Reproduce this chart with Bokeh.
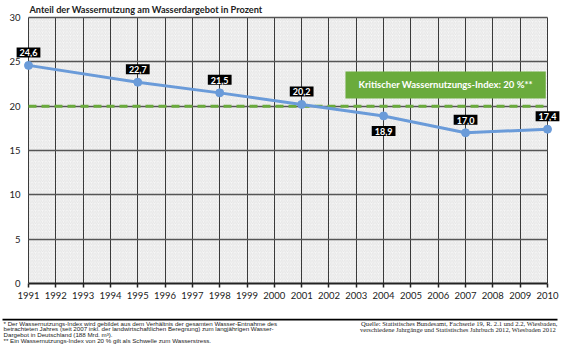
from bokeh.plotting import figure
from bokeh.models import Label, BoxAnnotation, FixedTicker
from bokeh.layouts import column
from bokeh.embed import file_html
from bokeh.resources import INLINE
from bokeh.core.properties import value

# ---- data ----
years = [1991, 1995, 1998, 2001, 2004, 2007, 2010]
values = [24.6, 22.7, 21.5, 20.2, 18.9, 17.0, 17.4]
value_labels = ["24,6", "22,7", "21,5", "20,2", "18,9", "17,0", "17,4"]
x_ticks = list(range(1991, 2011))
y_ticks = [0, 5, 10, 15, 20, 25, 30]
threshold = 20
title_text = "Anteil der Wassernutzung am Wasserdargebot in Prozent"
threshold_text = "Kritischer Wassernutzungs-Index: 20 %**"
foot_left = [
    "* Der Wassernutzungs-Index wird gebildet aus dem Verhältnis der gesamten Wasser-Entnahme des",
    "betrachteten Jahres (seit 2007 inkl. der landwirtschaftlichen Beregnung) zum langjährigen Wasser-",
    "Dargebot in Deutschland (188 Mrd. m³).",
    "** Ein Wassernutzungs-Index von 20 % gilt als Schwelle zum Wasserstress.",
]
foot_right = [
    "Quelle: Statistisches Bundesamt, Fachserie 19, R. 2.1 und 2.2, Wiesbaden,",
    "verschiedene Jahrgänge  und Statistisches Jahrbuch 2012, Wiesbaden 2012",
]

FONT = "Lato"
BLUE = "#6a9bd9"
GREEN = "#6aab3c"

# pixel layout of the plotting area
W, H_TOP = 561, 318
FL, FB = 12, 35           # frame left / bottom border
X0_PX, X1_PX = 28, 547    # where first / last year sit
Y30_PX, Y0_PX = 17, 283   # where top / bottom value sit
kx = (X1_PX - X0_PX) / (x_ticks[-1] - x_ticks[0])
ky = (Y0_PX - Y30_PX) / (y_ticks[-1] - y_ticks[0])
x_start = x_ticks[0] - (X0_PX - FL) / kx
x_end = x_ticks[-1] + (W - X1_PX) / kx
y_end = y_ticks[-1] + Y30_PX / ky

p = figure(width=W, height=H_TOP, x_range=(x_start, x_end), y_range=(0, y_end),
           output_backend="svg", toolbar_location=None,
           min_border_left=FL, min_border_right=0, min_border_top=0, min_border_bottom=FB)
p.background_fill_color = "white"
p.border_fill_color = "white"
p.outline_line_color = None
p.frame_align = False

# hatched plot area
p.add_layout(BoxAnnotation(left=x_ticks[0], right=x_ticks[-1], bottom=y_ticks[0], top=y_ticks[-1],
                           fill_color="#f6f6f6", fill_alpha=1, line_color=None,
                           hatch_pattern="/", hatch_color="#dcdcdc", hatch_scale=3.5,
                           hatch_weight=0.7, level="image"))

p.xaxis.ticker = FixedTicker(ticks=x_ticks)
p.yaxis.ticker = FixedTicker(ticks=y_ticks)
p.xaxis.bounds = (x_ticks[0], x_ticks[-1])
p.xgrid.cross_bounds = (y_ticks[0], y_ticks[-1])
p.ygrid.cross_bounds = (x_ticks[0], x_ticks[-1])
p.xgrid.grid_line_color = "#3a3a3a"
p.xgrid.grid_line_width = 1
p.ygrid.grid_line_color = "#555555"
p.ygrid.grid_line_width = 1.5

for ax in (p.xaxis[0], p.yaxis[0]):
    ax.major_label_text_font = FONT
    ax.major_label_text_font_size = "9.5px"
    ax.major_label_text_color = "#222222"
    ax.minor_tick_line_color = None

p.xaxis.axis_line_width = 2
p.xaxis.axis_line_color = "#222222"
p.xaxis.major_tick_line_color = "#222222"
p.xaxis.major_tick_line_width = 1.5
p.xaxis.major_tick_out = 4
p.xaxis.major_tick_in = 0
p.xaxis.major_label_standoff = 4

p.yaxis.axis_line_color = None
p.yaxis.major_tick_line_color = None
p.yaxis.major_tick_out = 0
p.yaxis.major_tick_in = 0
p.yaxis.major_label_standoff = -8

# threshold line
p.line([x_ticks[0], x_ticks[-1]], [threshold, threshold], line_color=GREEN,
       line_width=3, line_dash="8 5")

# series
p.line(years, values, line_color=BLUE, line_width=3)
p.scatter(years, values, size=8, fill_color=BLUE, line_color=BLUE)

# value labels
for yr, v, t in zip(years, values, value_labels):
    below = yr == 2004
    p.add_layout(Label(x=yr, y=v, text=t, text_align="center", text_baseline="middle",
                       y_offset=-15 if below else 13,
                       text_font=FONT, text_font_style="bold",
                       text_font_size="9px", text_color="white",
                       background_fill_color="black", background_fill_alpha=1,
                       padding=dict(left=3, right=3, top=2, bottom=1)))

# threshold box label
p.add_layout(Label(x=2006.27, y=22.39, text=threshold_text, text_align="center",
                   text_baseline="middle", text_font=FONT, text_font_style="bold",
                   text_font_size="9.5px", text_color="white",
                   background_fill_color=GREEN, background_fill_alpha=1,
                   padding=dict(left=13, right=13, top=8, bottom=8)))

# title
p.add_layout(Label(x=x_ticks[0], y=y_ticks[-1], x_offset=1, y_offset=8.5, text=title_text,
                   text_align="left", text_baseline="alphabetic", text_font=FONT,
                   text_font_style="bold", text_font_size="9.2px", text_color="#222222"))

# footnote panel
f = figure(width=W, height=353 - H_TOP, x_range=(0, W), y_range=(353 - H_TOP, 0),
           output_backend="svg", toolbar_location=None,
           x_axis_type=None, y_axis_type=None,
           min_border=0, min_border_left=0, min_border_right=0,
           min_border_top=0, min_border_bottom=0)
f.frame_align = False
f.grid.visible = False
f.outline_line_color = None
f.background_fill_color = "white"
f.segment(x0=[2], y0=[1], x1=[557], y1=[1], line_color="black", line_width=2)
f.text(x=[3] * len(foot_left), y=[4.5, 10.2, 15.9, 21.6], text=foot_left,
       text_font=value("Liberation Sans"), text_font_size="6.2px",
       text_baseline="middle", text_align="left", text_color="#222222")
f.text(x=[557] * len(foot_right), y=[4.5, 10.5], text=foot_right,
       text_font=value("Liberation Serif"), text_font_size="6.6px",
       text_baseline="middle", text_align="right", text_color="#222222")

layout = column(p, f, spacing=0)
open("out.html", "w").write(file_html(layout, INLINE))
